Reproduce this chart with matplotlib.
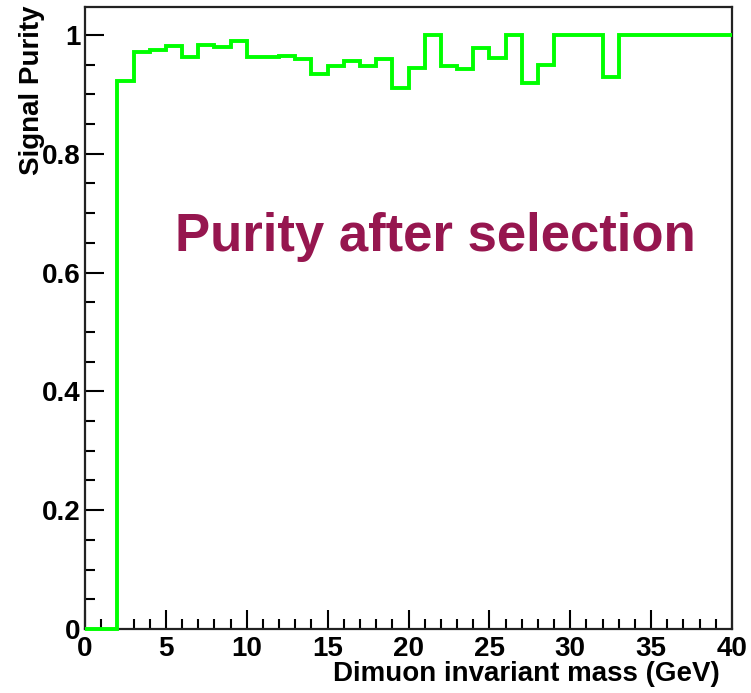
import numpy as np
import matplotlib
matplotlib.use("Agg")
import matplotlib.pyplot as plt

# purity per 1 GeV bin of dimuon invariant mass, 0 to 40 GeV
bin_edges = list(range(0, 41))
purity = [0.0, 0.0, 0.923, 0.971, 0.974, 0.981, 0.962, 0.983, 0.980, 0.989,
          0.963, 0.963, 0.965, 0.960, 0.934, 0.948, 0.956, 0.948, 0.960, 0.910,
          0.945, 1.0, 0.948, 0.943, 0.978, 0.961, 1.0, 0.919, 0.949, 1.0,
          1.0, 1.0, 0.929, 1.0, 1.0, 1.0, 1.0, 1.0, 1.0, 1.0]
x_ticks = [0, 5, 10, 15, 20, 25, 30, 35, 40]
y_ticks = [0, 0.2, 0.4, 0.6, 0.8, 1.0]
y_tick_labels = ["0", "0.2", "0.4", "0.6", "0.8", "1"]

plt.rcParams["font.family"] = ["Liberation Sans", "DejaVu Sans"]
plt.rcParams["font.weight"] = "bold"

fig = plt.figure(figsize=(7.51, 6.93), dpi=100)
ax = fig.add_axes([0.1132, 0.0924, 0.8615, 0.8975])

ax.stairs(purity, bin_edges, color="#00ff00", linewidth=2.8, baseline=None,
          clip_on=False, zorder=5)

ax.set_xlim(0, 40)
ax.set_ylim(0, 1.047)

ax.set_xticks(x_ticks)
ax.set_xticks(np.arange(0, 41, 1), minor=True)
ax.set_yticks(y_ticks)
ax.set_yticklabels(y_tick_labels)
ax.set_yticks(np.arange(0, 1.05, 0.05), minor=True)

ax.tick_params(axis="both", which="major", direction="in", length=14, width=1.5,
               labelsize=20, top=False, right=False)
ax.tick_params(axis="both", which="minor", direction="in", length=7, width=1.5,
               top=False, right=False)
ax.tick_params(axis="x", which="major", pad=5)
ax.tick_params(axis="y", which="major", pad=3)

for s in ax.spines.values():
    s.set_linewidth(1.6)
    s.set_color("#222222")

ax.set_xlabel("Dimuon invariant mass (GeV)", fontsize=20, fontweight="bold", loc="right")
ax.xaxis.set_label_coords(0.981, -0.052)
ax.set_ylabel("Signal Purity", fontsize=20, fontweight="bold", loc="top")
ax.yaxis.set_label_coords(-0.062, 1.003)

ax.text(0.1397, 0.63, "Purity after selection", transform=ax.transAxes,
        fontsize=38, fontweight="bold", color="#96164f", ha="left", va="center")

fig.savefig("out.png", dpi=100)
